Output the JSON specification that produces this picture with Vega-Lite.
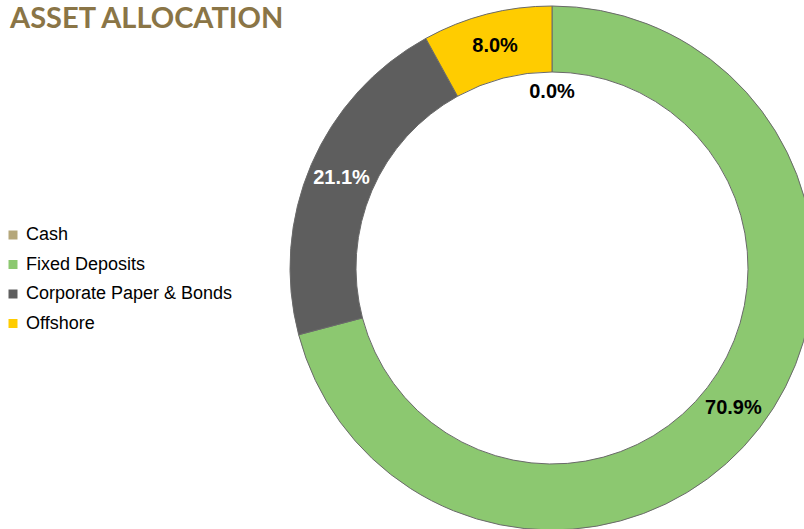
{
  "$schema": "https://vega.github.io/schema/vega-lite/v6.json",
  "autosize": {"type": "none"},
  "padding": {"left": 300, "top": 7, "right": 0, "bottom": 0},
  "width": 504,
  "height": 522,
  "background": "white",
  "title": {
    "text": "ASSET ALLOCATION",
    "anchor": "start",
    "frame": "group",
    "orient": "top",
    "offset": -30,
    "dx": -290,
    "font": "Lato",
    "fontSize": 29,
    "fontWeight": "bold",
    "color": "#8a7546"
  },
  "data": {
    "values": [
      {"category": "Cash", "value": 0.0, "idx": 1},
      {"category": "Fixed Deposits", "value": 70.9, "idx": 2},
      {"category": "Corporate Paper & Bonds", "value": 21.1, "idx": 3},
      {"category": "Offshore", "value": 8.0, "idx": 4}
    ]
  },
  "transform": [{"calculate": "format(datum.value, '.1f') + '%'", "as": "label"}],
  "encoding": {
    "theta": {"field": "value", "type": "quantitative", "stack": true},
    "order": {"field": "idx", "type": "quantitative"}
  },
  "layer": [
    {
      "mark": {"type": "arc", "radius": 262, "radius2": 196, "stroke": "#6a6a6a", "strokeWidth": 1},
      "encoding": {
        "color": {
          "field": "category",
          "type": "nominal",
          "sort": ["Cash", "Fixed Deposits", "Corporate Paper & Bonds", "Offshore"],
          "scale": {
            "domain": ["Cash", "Fixed Deposits", "Corporate Paper & Bonds", "Offshore"],
            "range": ["#b5a77a", "#8cc870", "#5e5e5e", "#ffcc00"]
          },
          "legend": {
            "title": null,
            "orient": "none",
            "legendX": -296,
            "legendY": 219,
            "padding": 0,
            "symbolType": "square",
            "symbolSize": 81,
            "symbolStrokeWidth": 0,
            "labelFont": "Liberation Sans",
            "labelFontSize": 18,
            "labelLimit": 400,
            "labelColor": "#000000",
            "labelOffset": 4,
            "rowPadding": 11.5
          }
        }
      }
    },
    {
      "transform": [{"filter": "datum.value > 0"}],
      "mark": {"type": "text", "radius": 229, "font": "Liberation Sans", "fontSize": 20, "fontWeight": "bold"},
      "encoding": {
        "text": {"field": "label", "type": "nominal"},
        "color": {
          "condition": {"test": "datum.category === 'Corporate Paper & Bonds'", "value": "#ffffff"},
          "value": "#000000"
        }
      }
    },
    {
      "transform": [{"filter": "datum.value == 0"}],
      "mark": {"type": "text", "radius": 176, "font": "Liberation Sans", "fontSize": 20, "fontWeight": "bold"},
      "encoding": {
        "text": {"field": "label", "type": "nominal"},
        "color": {"value": "#000000"}
      }
    }
  ]
}
